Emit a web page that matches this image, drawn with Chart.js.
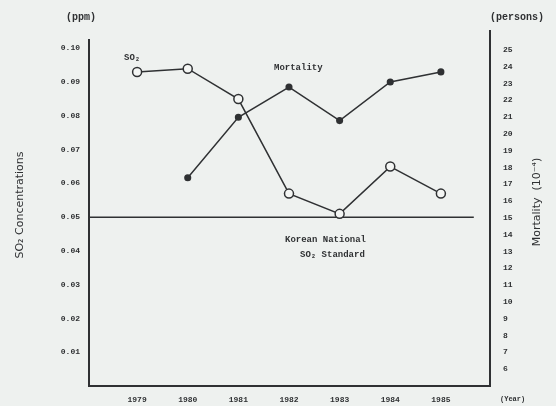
<!DOCTYPE html>
<html>
<head>
<meta charset="utf-8">
<script src="https://cdn.jsdelivr.net/npm/chart.js@4"></script>
<style>
  html, body { margin: 0; padding: 0; background: #eef1ef; }
  #wrap { width: 556px; height: 406px; position: relative; }
</style>
</head>
<body>
<div id="wrap"><canvas id="c" width="556" height="406"></canvas></div>
<script>
// data
var YEARS = [1979, 1980, 1981, 1982, 1983, 1984, 1985];
var SO2 = [0.093, 0.094, 0.085, 0.057, 0.051, 0.065, 0.057];          // ppm
var MORTALITY = [null, 17.4, 21.0, 22.8, 20.8, 23.1, 23.7];           // persons (10^-4)
var SO2_TICKS = [0.01, 0.02, 0.03, 0.04, 0.05, 0.06, 0.07, 0.08, 0.09, 0.10];
var MORT_TICKS = [6, 7, 8, 9, 10, 11, 12, 13, 14, 15, 16, 17, 18, 19, 20, 21, 22, 23, 24, 25];
var STANDARD = 0.05;                    // Korean national SO2 standard
var STANDARD_SPAN = [1978.05, 1985.65]; // years the standard line covers

var INK = '#2f3133';
var FONT = '"Liberation Mono", "DejaVu Sans Mono", monospace';

function pts(vals) {
  return YEARS.map(function (y, i) { return { x: y, y: vals[i] }; });
}

var notes = {
  id: 'notes',
  afterDraw: function (chart) {
    var ctx = chart.ctx;
    ctx.save();
    ctx.fillStyle = INK;
    ctx.textBaseline = 'middle';
    ctx.textAlign = 'left';
    ctx.font = 'bold 10px ' + FONT;
    ctx.fillText('(ppm)', 66, 17);
    ctx.fillText('(persons)', 490, 17);
    ctx.font = 'bold 9px ' + FONT;
    ctx.fillText('SO\u2082', 124, 58);
    ctx.fillText('Mortality', 274, 68);
    ctx.fillText('Korean National', 285, 240);
    ctx.fillText('SO\u2082 Standard', 300, 255);
    ctx.font = 'bold 7px ' + FONT;
    ctx.fillText('(Year)', 500, 399);

    // rotated axis titles
    ctx.font = '11px "DejaVu Sans", sans-serif';
    ctx.textAlign = 'center';
    ctx.save();
    ctx.translate(20, 205);
    ctx.rotate(-Math.PI / 2);
    ctx.fillText('SO\u2082 Concentrations', 0, 0);
    ctx.restore();
    ctx.save();
    ctx.translate(537, 202);
    ctx.rotate(-Math.PI / 2);
    ctx.fillText('Mortality  (10\u207B\u2074)', 0, 0);
    ctx.restore();

    // right axis runs a little higher than the left one in the original
    var ry = chart.scales.yR;
    ctx.strokeStyle = INK;
    ctx.lineWidth = 2;
    ctx.beginPath();
    ctx.moveTo(ry.left, chart.chartArea.top);
    ctx.lineTo(ry.left, chart.chartArea.top - 10);
    ctx.stroke();
    ctx.restore();
  }
};

new Chart(document.getElementById('c'), {
  type: 'line',
  data: {
    datasets: [
      {
        label: 'SO2',
        data: pts(SO2),
        yAxisID: 'yL',
        borderColor: INK,
        borderWidth: 1.5,
        pointStyle: 'circle',
        pointRadius: 4.5,
        pointBorderWidth: 1.5,
        pointBackgroundColor: '#f4f6f4',
        pointBorderColor: INK,
        tension: 0
      },
      {
        label: 'Mortality',
        data: pts(MORTALITY),
        yAxisID: 'yR',
        borderColor: INK,
        borderWidth: 1.5,
        pointRadius: 2.8,
        pointBackgroundColor: INK,
        pointBorderColor: INK,
        spanGaps: false,
        tension: 0
      },
      {
        label: 'Standard',
        data: STANDARD_SPAN.map(function (x) { return { x: x, y: STANDARD }; }),
        yAxisID: 'yL',
        borderColor: INK,
        borderWidth: 1.4,
        pointRadius: 0
      }
    ]
  },
  options: {
    responsive: false,
    animation: false,
    layout: { padding: { top: 40, left: 0, right: 0, bottom: 0 } },
    plugins: { legend: { display: false }, tooltip: { enabled: false } },
    scales: {
      x: {
        type: 'linear',
        min: 1978.05,
        max: 1985.97,
        afterBuildTicks: function (s) { s.ticks = YEARS.map(function (v) { return { value: v }; }); },
        afterFit: function (s) { s.height = 20; },
        grid: { display: false },
        border: { display: true, color: INK, width: 2 },
        ticks: {
          color: INK,
          padding: 1,
          maxRotation: 0,
          font: { family: FONT, size: 8, weight: 'bold' },
          callback: function (v) { return String(v); }
        }
      },
      yL: {
        type: 'linear',
        position: 'left',
        min: 0,
        max: 0.1025,
        afterBuildTicks: function (s) { s.ticks = SO2_TICKS.map(function (v) { return { value: v }; }); },
        afterFit: function (s) { s.width = 89; },
        grid: { display: false },
        border: { display: true, color: INK, width: 2 },
        ticks: {
          color: INK,
          padding: 1,
          font: { family: FONT, size: 8, weight: 'bold' },
          callback: function (v) { return v.toFixed(2); }
        }
      },
      yR: {
        type: 'linear',
        position: 'right',
        min: 5,
        max: 25.6,
        afterBuildTicks: function (s) { s.ticks = MORT_TICKS.map(function (v) { return { value: v }; }); },
        afterFit: function (s) { s.width = 66; },
        grid: { display: false },
        border: { display: true, color: INK, width: 2 },
        ticks: {
          color: INK,
          padding: 5,
          font: { family: FONT, size: 8, weight: 'bold' },
          callback: function (v) { return String(v); }
        }
      }
    }
  },
  plugins: [notes]
});
</script>
</body>
</html>
